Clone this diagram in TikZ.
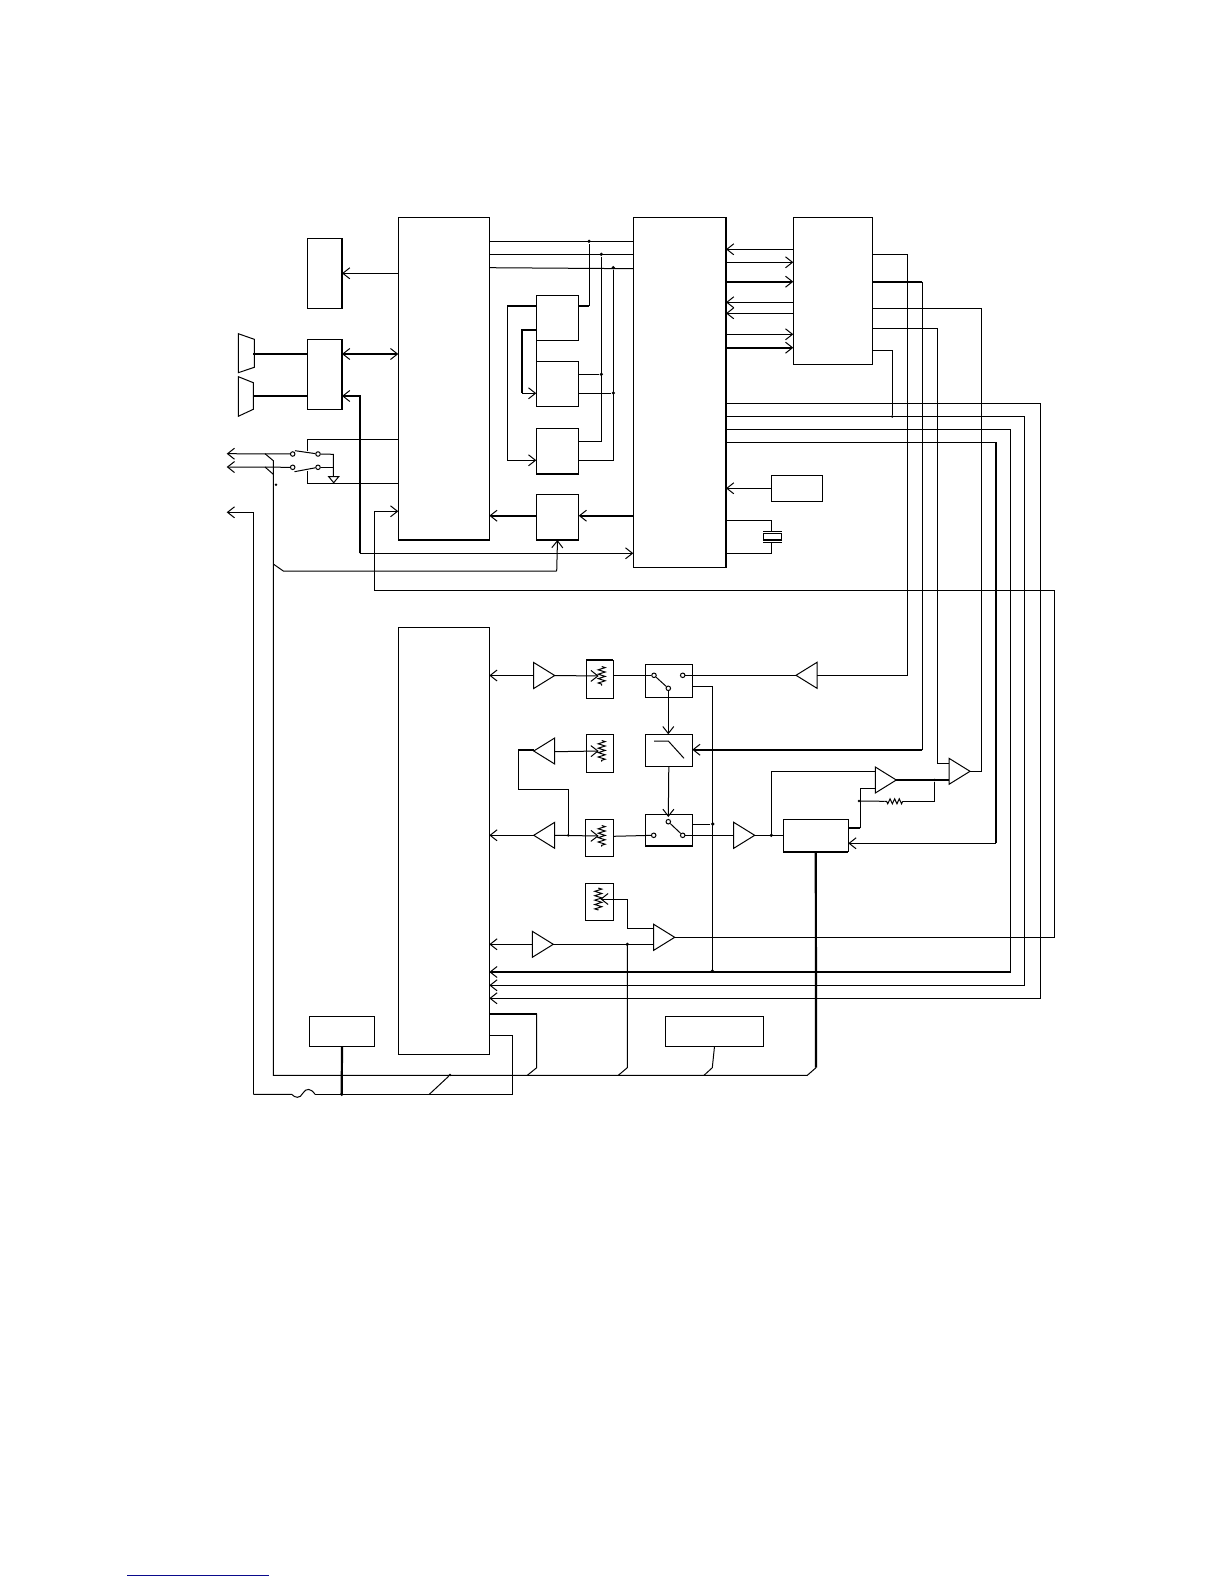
\documentclass[tikz,border=0pt]{standalone}
\usetikzlibrary{arrows.meta,shapes.geometric,decorations.pathmorphing}
\tikzset{
  >={Straight Barb[length=7pt,width=11pt,line width=1pt]},
  every path/.style={line width=1pt,line join=miter},
  boxs/.style={draw,rectangle,inner sep=0pt,outer sep=0pt,line width=1pt},
  bus/.style={line width=2.2pt},
  midbus/.style={line width=1.6pt},
  amp/.style={draw,isosceles triangle,isosceles triangle stretches,inner sep=0pt,outer sep=0pt,
    minimum width=26pt,minimum height=21pt,anchor=apex,line width=1pt},
  ampr/.style={amp,shape border rotate=0},
  ampl/.style={amp,shape border rotate=180},
  dot/.style={circle,fill=black,inner sep=0pt,minimum size=3.6pt},
  contact/.style={circle,draw,fill=white,inner sep=0pt,minimum size=4.5pt,line width=1pt},
  zig/.style={decorate,decoration={zigzag,segment length=4.4pt,amplitude=3.5pt}},
  linkblue/.style={color={rgb,255:red,10;green,10;blue,140}}
}
\newcommand\blk[5]{\node[boxs,minimum width={(#4-#2)*1pt},minimum height={(#5-#3)*1pt}] (#1) at ({(#2+#4)/2},{(#3+#5)/2}) {};}
\newcommand\potzig[4]{\coordinate (#1) at (#2,{(#3+#4)/2}); \draw[zig] (#2,#3) -- (#2,#4);}
\begin{document}
\begin{tikzpicture}[x=1pt,y=-1pt]
\useasboundingbox (0,0) rectangle (1224,1584);
% blocks
\blk{M1}{398.3}{217.3}{489.3}{540}
\blk{M2}{633.3}{217.3}{726}{567.3}
\blk{M3}{398.3}{627.5}{489.3}{1054.3}
\blk{A}{307.3}{238.3}{342}{308.3}
\blk{B}{307.3}{339.3}{342}{409.3}
\blk{CA}{536.3}{295.3}{578.7}{340.3}
\blk{CB}{536.3}{361.3}{578.7}{406.3}
\blk{CC}{536.3}{428.3}{578.7}{474}
\blk{CD}{536.3}{494.3}{578.7}{540}
\blk{E}{793.3}{217.3}{872.7}{364.3}
\blk{G}{771.3}{475.3}{822.3}{501.3}
\blk{F}{783.3}{819.3}{848.3}{851.7}
\blk{H}{309.3}{1016.3}{374.7}{1046.3}
\blk{J}{665.3}{1016.3}{763.7}{1046.3}
\blk{PA}{586.3}{660}{613.3}{698.3}
\blk{PB}{586.3}{734.3}{613.3}{772.3}
\blk{PC}{585.3}{819.3}{613.3}{856.3}
\blk{PD}{585.3}{883.3}{613.3}{920.3}
\blk{SA}{645.3}{664.3}{692.3}{697.3}
\blk{LP}{645.3}{734.3}{692.3}{766.3}
\blk{SC}{645.3}{814.3}{692.3}{846}
% heavier box edges
\draw[midbus] (M1.south west) -- (M1.south east);
\draw[midbus] (M2.north east) -- (M2.south east);
\draw[midbus] (A.north east) -- (A.south east);
\draw[midbus] (B.north east) -- (B.south east);
\draw[midbus] (CC.south west) -- (CC.south east);
\draw[midbus] (CD.south west) -- (CD.south east);
\draw[midbus] (G.north east) -- (G.south east);
\draw[midbus] (F.south west) -- (F.south east);
\draw[midbus] (PA.north west) -- (PA.north east);
\draw[midbus] (SC.south west) -- (SC.south east);
\draw[midbus] (J.north west) -- (J.south west);
\draw (CA.south west) -- (CB.north west);
% amplifiers
\node[ampr] (a1) at (554.7,675.5) {};
\node[ampl] (a2) at (533.7,751) {};
\node[ampl] (a3) at (533.7,835.3) {};
\node[ampr] (a4) at (553.3,944.3) {};
\node[ampr] (a5) at (674.7,937.3) {};
\node[ampl] (a6) at (796,675.3) {};
\node[ampr] (a7) at (754.7,835.3) {};
\node[ampr] (a8) at (896.3,780) {};
\node[ampr] (a9) at (970,771.3) {};
% horns
\draw (238.3,333.7) -- (254.3,339.3) -- (254.3,367.3) -- (238.3,372.7) -- cycle;
\draw (238.3,376.7) -- (253.3,382.7) -- (253.3,409.3) -- (238.3,416.3) -- cycle;
\coordinate (hornA) at (253.3,354);
\coordinate (hornB) at (253.3,396);
\draw[bus] (hornA) -- (B.west |- hornA);
\draw[bus] (hornB) -- (B.west |- hornB);
% top-left connectors
\draw[->] (M1.west |- 0,273.3) -- (A.east |- 0,273.3);
\draw[bus,<->] (B.east |- 0,354) -- (M1.west |- 0,354);
\draw[bus,->] (359.7,553.3) -- (359.7,396) -- (B.east |- 0,396);
\draw[->] (359.7,553.3) -- (M2.west |- 0,553.3);
% switch at left
\node[contact] (k1) at (292.7,454) {};
\node[contact] (k2) at (318,454) {};
\node[contact] (k3) at (292.7,467.3) {};
\node[contact] (k4) at (318,467.3) {};
\draw (295,450.7) -- (k2);
\draw (294.5,471.7) -- (k4);
\draw (k2) -- (333.3,454.3) -- (333.3,476.7);
\draw[midbus] (k4) -- (333.3,467.3);
\node[boxs,isosceles triangle,isosceles triangle stretches,shape border rotate=-90,minimum width=10pt,minimum height=6pt,anchor=apex] (gnd) at (333.7,482.7) {};
\draw (M1.west |- 0,439.3) -- (307.3,439.3) -- (307.3,451);
\draw (M1.west |- 0,483.3) -- (307.3,483.3) -- (307.3,470.5);
\coordinate (outA) at (226.7,453.7);
\coordinate (outB) at (226.7,467);
\coordinate (outC) at (226.7,512.3);
\draw[->] (k1) -- (outA);
\draw[->] (k3) -- (outB);
\draw[->] (253.3,1094.3) -- (253.3,512.3) -- (outC);
\draw (265,467) -- (273.3,474.3);
\node[dot,minimum size=2.8pt] (d0) at (276,484.7) {};
% long bus left-bottom
\draw (265,453.7) -- (273.3,460.7) -- (273.3,1075.3) -- (807.3,1075.3) -- (816,1067.7);
\draw[bus] (816,1067.7) -- (F.south);
\draw (273.3,564) -- (283.3,571) -- (556.7,571);
\draw[->] (556.7,571) -- (CD.south);
\draw (M3.east |- 0,1035.3) -- (512.3,1035.3) -- (512.3,1094.3) -- (315,1094.3);
\draw (315,1094.3) .. controls (311,1088) and (306,1088) .. (303,1093) .. controls (300,1099) and (295,1098) .. (291.7,1094.3) -- (253.3,1094.3);
\draw[bus] (H.south) -- (341.7,1094.3);
\node[dot] (d1) at (341.7,1094.3) {};
\node[dot,minimum size=2.8pt] (d2) at (450,1075) {};
\draw (429.3,1094.3) -- (d2);
% feedback into M1
\draw[->] (a5.apex) -- (1054.3,937.3) -- (1054.3,590) -- (374.7,590) -- (374.7,511.3) -- (M1.west |- 0,511.3);
% M1-M2 lines
\draw (M1.east |- 0,241.3) -- (M2.west |- 0,241.3);
\draw (M1.east |- 0,254.3) -- (M2.west |- 0,254.3);
\draw (M1.east |- 0,267.7) -- (M2.west |- 0,268.7);
\node[dot] (d3) at (589,241.3) {};
\node[dot] (d4) at (601.3,254.3) {};
\node[dot] (d5) at (613.3,267.7) {};
\draw[bus] (CA.east |- 0,306) -- (589,306);
\draw (589,306) -- (d3);
\node[dot] (d6) at (601.3,374.3) {};
\node[dot] (d7) at (613.3,393) {};
\draw (d4) -- (601.3,441.3) -- (CC.east |- 0,441.3);
\draw (d5) -- (613.3,460.3) -- (CC.east |- 0,460.3);
\draw (CB.east |- d6) -- (d6);
\draw (CB.east |- d7) -- (d7);
\draw[bus] (CA.west |- 0,306) -- (507.3,306);
\draw[->] (507.3,306) -- (507.3,460.3) -- (CC.west |- 0,460.3);
\draw[bus] (CA.west |- 0,330) -- (522,330) -- (522,393.3);
\draw[midbus,->] (522,393.3) -- (CB.west |- 0,393.3);
\draw[bus,->] (M2.west |- 0,515.7) -- (CD.east |- 0,515.7);
\draw[bus,->] (CD.west |- 0,515.7) -- (M1.east |- 0,515.7);
% M2-E lines
\draw[->] (E.west |- 0,249.3) -- (M2.east |- 0,249.3);
\draw[->] (M2.east |- 0,262.3) -- (E.west |- 0,262.3);
\draw[bus,->] (M2.east |- 0,281.7) -- (E.west |- 0,281.7);
\draw[->] (E.west |- 0,302.3) -- (M2.east |- 0,302.3);
\draw[->] (E.west |- 0,313.3) -- (M2.east |- 0,313.3);
\draw[->] (M2.east |- 0,334.3) -- (E.west |- 0,334.3);
\draw[bus,->] (M2.east |- 0,347.7) -- (E.west |- 0,347.7);
% G and crystal
\draw[->] (G.west) -- (M2.east |- G.west);
\node[boxs,minimum width=18.4pt,minimum height=6.7pt,line width=1.4pt] (X) at (772.5,536.7) {};
\draw (X.north west |- 0,531.3) -- (X.north east |- 0,531.3);
\draw (X.south west |- 0,542.3) -- (X.south east |- 0,542.3);
\draw (M2.east |- 0,520.3) -- (771.7,520.3) -- (771.7,531.3);
\draw (M2.east |- 0,553.3) -- (771.7,553.3) -- (771.7,542.3);
% E outputs
\draw (E.east |- 0,254.3) -- (907.5,254.3) -- (907.5,675.3) -- (a6.lower side);
\draw[bus] (E.east |- 0,281.7) -- (922.3,281.7);
\draw (922.3,281.7) -- (922.3,749.7);
\draw[bus,->] (922.3,749.7) -- (LP.east |- 0,749.7);
\draw (E.east |- 0,308.3) -- (981.5,308.3) -- (981.5,771.3) -- (a9.apex);
\draw (E.east |- 0,328.3) -- (937.3,328.3) -- (937.3,763.3) -- (a9.lower side |- 0,763.3);
\node[dot,minimum size=2.8pt] (d8) at (892.3,416.5) {};
\draw (E.east |- 0,350.3) -- (892.3,350.3) -- (d8);
% M2 right outputs
\draw[->] (M2.east |- 0,403.3) -- (1040.5,403.3) -- (1040.5,998.3) -- (M3.east |- 0,998.3);
\draw[->] (M2.east |- 0,416.5) -- (1024.5,416.5) -- (1024.5,985.3) -- (M3.east |- 0,985.3);
\draw (M2.east |- 0,429.3) -- (1010.7,429.3) -- (1010.7,972);
\draw[bus,->] (1010.7,972) -- (M3.east |- 0,972);
\draw (M2.east |- 0,442.3) -- (996,442.3);
\draw[bus] (996,442.3) -- (996,843.3);
\draw[->] (996,843.3) -- (F.east |- 0,843.3);
% row 1
\draw[->] (a1.lower side) -- (M3.east |- a1.lower side);
\potzig{z1}{601.7}{666.5}{685.5}
\draw[->] (a1.apex) -- ([xshift=-3pt]z1);
\node[contact] (s1) at (654,675.3) {};
\node[contact] (s2) at (682.7,675.3) {};
\node[contact] (s3) at (668.3,688.3) {};
\draw (s1) -- (s3);
\draw (PA.east |- 0,675.3) -- (s1);
\draw (s2) -- (a6.apex);
\draw (SA.east |- 0,686.3) -- (712.3,686.3) -- (712.3,972);
\node[dot] (d9) at (712.3,971) {};
\node[dot] (d10) at (712.7,824) {};
\draw (SC.east |- d10) -- (d10);
\draw[->] (s3) -- (668.3,734.3);
% filter
\coordinate (f1) at (654,741);
\coordinate (f2) at (668.3,741);
\coordinate (f3) at (684,758.3);
\draw (f1) -- (f2) -- (f3);
% row 2
\potzig{z2}{601.7}{740.5}{761.5}
\draw[->] (a2.lower side |- 0,751.7) -- ([xshift=-3pt]z2);
\draw[bus] (a2.apex) ++(0,-1.3) -- (518.3,749.7);
\draw (518.3,749.7) -- (518.3,789.3) -- (568.3,789.3) -- (568.3,835.3);
% row 3
\draw[->] (a3.apex) -- (M3.east |- a3.apex);
\potzig{z3}{601.7}{825.5}{846.5}
\draw[->] (a3.lower side) -- ([xshift=-3pt]z3);
\node[dot,minimum size=2.8pt] (d11) at (568.3,835.3) {};
\node[contact] (t1) at (653.7,835.3) {};
\node[contact] (t2) at (668.3,821.7) {};
\node[contact] (t3) at (682.7,835.3) {};
\draw (t2) -- (t3);
\draw (PC.east |- 0,836.3) -- (t1);
\draw (t3) -- (a7.lower side);
\draw[->] (LP.south) -- (668.3,817);
% row 4
\potzig{z4}{598.3}{888}{910}
\draw[->] (a4.lower side) -- (M3.east |- a4.lower side);
\draw (a4.apex) -- (a5.lower side |- a4.apex);
\draw[->] (a5.lower side |- 0,928.3) -- (627.3,928.3) -- (627.3,899) -- ([xshift=2pt]z4);
\draw (627.3,944.3) -- (627.3,1067.7) -- (618.3,1075.3);
\node[dot] (d12) at (627.3,944.3) {};
% right amps
\draw (a7.apex) -- (F.west |- a7.apex);
\draw (771.3,835.3) -- (771.3,771.3) -- (a8.lower side |- 0,771.3);
\node[dot] (d13) at (771.3,835.3) {};
\draw[midbus] (852,771.3) -- (a8.lower side |- 0,771.3);
\draw[bus] (a8.apex) -- (a9.lower side |- a8.apex);
\node[dot,minimum size=2.8pt] (d14) at (934.7,780) {};
\node[dot,minimum size=2.8pt] (d15) at (859,801) {};
\draw (d14) -- (934.7,801.3) -- (902.7,801.3);
\draw[decorate,decoration={zigzag,segment length=4.6pt,amplitude=2.5pt}] (902.7,801.3) -- (884.3,801.3);
\draw (884.3,801.3) -- (d15);
\draw (a8.lower side |- 0,788.3) -- (860.3,788.3) -- (860.3,828);
\draw[bus] (860.3,828) -- (F.east |- 0,828);
% bottom drops
\draw[midbus] (M3.east |- 0,1013.7) -- (536.7,1013.7);
\draw (536.7,1013.7) -- (536.7,1067.7) -- (527.3,1075.3);
\draw (J.south) -- (712.3,1067.7) -- (704,1075.3);
% footer rule
\coordinate (ruleA) at (127,1575);
\coordinate (ruleB) at (268.7,1575);
\draw[linkblue] (ruleA) -- (ruleB);
\end{tikzpicture}
\end{document}
